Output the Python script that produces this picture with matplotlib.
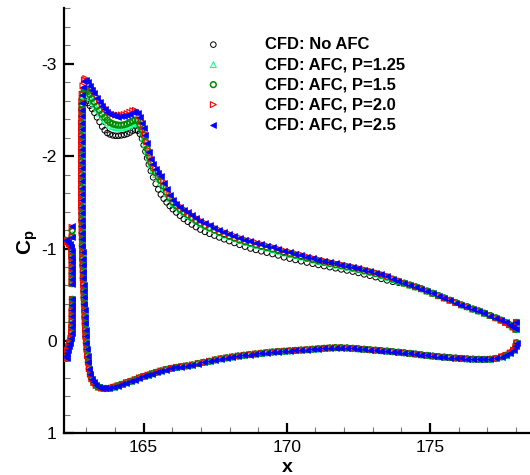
import matplotlib
matplotlib.use('Agg')
import matplotlib.pyplot as plt
from matplotlib.ticker import MultipleLocator

plt.rcParams['font.family'] = 'Liberation Sans'
plt.rcParams['axes.unicode_minus'] = False
plt.rcParams['mathtext.fontset'] = 'custom'
plt.rcParams['mathtext.rm'] = 'Liberation Sans'
plt.rcParams['mathtext.bf'] = 'Liberation Sans:bold'

labels = ['CFD: No AFC', 'CFD: AFC, P=1.25', 'CFD: AFC, P=1.5',
          'CFD: AFC, P=2.0', 'CFD: AFC, P=2.5']

# slot / slat trailing edge region (all cases on top of each other)
x_slat = [162.27, 162.34, 162.41, 162.47, 162.50,
          162.49, 162.49, 162.50, 162.50, 162.50, 162.50, 162.50,
          162.51, 162.51, 162.50, 162.50, 162.50, 162.49, 162.48, 162.46,
          162.42, 162.38, 162.34, 162.31, 162.30, 162.31]
cp_slat = [-1.09, -1.07, -1.05, -1.02, -1.13,
           -0.97, -0.91, -0.85, -0.79, -0.73, -0.67, -0.62,
           -0.45, -0.39, -0.33, -0.27, -0.21, -0.15, -0.09, -0.03,
           0.02, 0.06, 0.10, 0.13, 0.16, 0.19]
# top of the slot column, one value per case
x_slot_top = 162.50
cp_slot_top = [-1.20, -1.15, -1.19, -1.23, -1.245]

# main element leading edge (steep part going down into lower surface)
x_le = [162.84, 162.84, 162.83, 162.83, 162.83, 162.83, 162.83, 162.83, 162.83, 162.83,
        162.83, 162.83, 162.83, 162.83, 162.83, 162.83, 162.84, 162.84, 162.85, 162.85,
        162.86, 162.86, 162.87, 162.87, 162.88, 162.89, 162.89, 162.90, 162.91, 162.92,
        162.93, 162.94, 162.95, 162.96, 162.97, 162.98, 163.00, 163.02, 163.04, 163.07,
        163.10, 163.14, 163.19, 163.26, 163.34, 163.43, 163.53]
cp_le = [-2.50, -2.43, -2.36, -2.29, -2.22, -2.15, -2.08, -2.01, -1.94, -1.87,
         -1.80, -1.73, -1.66, -1.59, -1.52, -1.45, -1.38, -1.31, -1.24, -1.17,
         -1.10, -1.03, -0.96, -0.89, -0.82, -0.75, -0.68, -0.61, -0.54, -0.47,
         -0.40, -0.33, -0.26, -0.19, -0.12, -0.05, 0.02, 0.09, 0.16, 0.23,
         0.30, 0.36, 0.41, 0.45, 0.48, 0.50, 0.51]

# lower surface (cases collapse)
x_lo = [163.65, 163.8, 163.95, 164.1, 164.25, 164.4, 164.55, 164.7, 164.85, 165.0,
        165.15, 165.3, 165.45, 165.6, 165.78, 165.96, 166.14, 166.32, 166.5, 166.7,
        166.9, 167.1, 167.3, 167.5, 167.7, 167.9, 168.1, 168.3, 168.5, 168.7,
        168.9, 169.1, 169.3, 169.5, 169.7, 169.9, 170.1, 170.3, 170.5, 170.7,
        170.9, 171.1, 171.3, 171.5, 171.7, 171.9, 172.1, 172.3, 172.5, 172.7,
        172.9, 173.1, 173.3, 173.5, 173.7, 173.9, 174.1, 174.3, 174.5, 174.7,
        174.9, 175.1, 175.3, 175.5, 175.7, 175.9, 176.1, 176.3, 176.5, 176.7,
        176.9, 177.1, 177.3, 177.5, 177.65, 177.8, 177.92, 178.0, 178.03]
cp_lo = [0.515, 0.513, 0.5, 0.485, 0.47, 0.452, 0.437, 0.42, 0.40, 0.385,
         0.37, 0.355, 0.34, 0.325, 0.31, 0.298, 0.287, 0.278, 0.27, 0.26,
         0.245, 0.232, 0.22, 0.205, 0.193, 0.183, 0.173, 0.163, 0.155, 0.148,
         0.141, 0.134, 0.127, 0.12, 0.115, 0.111, 0.107, 0.103, 0.099, 0.095,
         0.09, 0.085, 0.08, 0.076, 0.073, 0.073, 0.076, 0.08, 0.085, 0.09,
         0.095, 0.10, 0.105, 0.11, 0.116, 0.122, 0.128, 0.135, 0.142, 0.15,
         0.157, 0.164, 0.17, 0.175, 0.18, 0.185, 0.19, 0.194, 0.197, 0.199,
         0.2, 0.198, 0.19, 0.172, 0.155, 0.13, 0.1, 0.06, 0.02]

# upper surface, front part (cases differ)
x_up = [162.84, 162.85, 162.88, 162.93, 162.98, 163.05, 163.12, 163.20, 163.28, 163.37,
        163.46, 163.55, 163.64, 163.73, 163.82, 163.92, 164.02, 164.12, 164.22, 164.32,
        164.42, 164.52, 164.62, 164.71, 164.79, 164.87, 164.94, 165.00, 165.06, 165.12,
        165.18, 165.25, 165.33, 165.42, 165.51, 165.60, 165.70, 165.80, 165.91, 166.02,
        166.14, 166.27, 166.40, 166.54, 166.68, 166.83, 166.98, 167.14, 167.30, 167.47,
        167.64, 167.81, 167.99, 168.17, 168.35, 168.54, 168.73, 168.92, 169.11, 169.30,
        169.50, 169.70, 169.90, 170.10, 170.30, 170.50, 170.70, 170.90, 171.10, 171.30,
        171.50, 171.70, 171.90, 172.10, 172.30, 172.50, 172.70, 172.90, 173.10, 173.30,
        173.50, 173.70, 173.90]

cp_up_noafc = [-2.53, -2.56, -2.585, -2.60, -2.595, -2.575, -2.545, -2.51, -2.47, -2.42,
               -2.37, -2.32, -2.28, -2.25, -2.235, -2.225, -2.22, -2.22, -2.225, -2.23,
               -2.24, -2.255, -2.275, -2.285, -2.275, -2.24, -2.19, -2.12, -2.05, -1.98,
               -1.91, -1.84, -1.77, -1.70, -1.64, -1.585, -1.54, -1.50, -1.46, -1.425,
               -1.39, -1.355, -1.32, -1.29, -1.26, -1.232, -1.205, -1.18, -1.16, -1.14,
               -1.12, -1.10, -1.08, -1.06, -1.04, -1.02, -1.0, -0.985, -0.97, -0.955,
               -0.94, -0.925, -0.905, -0.89, -0.876, -0.862, -0.848, -0.835, -0.822, -0.81,
               -0.798, -0.786, -0.774, -0.762, -0.75, -0.736, -0.72, -0.705, -0.69, -0.672,
               -0.655, -0.64, -0.63]
cp_up_p125 = [-2.55, -2.60, -2.65, -2.685, -2.69, -2.67, -2.635, -2.595, -2.555, -2.51,
              -2.465, -2.425, -2.39, -2.36, -2.335, -2.32, -2.31, -2.305, -2.305, -2.31,
              -2.32, -2.335, -2.35, -2.36, -2.35, -2.31, -2.255, -2.195, -2.13, -2.055,
              -1.98, -1.91, -1.85, -1.80, -1.755, -1.715, -1.66, -1.60, -1.54, -1.49,
              -1.452, -1.418, -1.388, -1.358, -1.328, -1.298, -1.268, -1.243, -1.218, -1.194,
              -1.17, -1.147, -1.127, -1.107, -1.087, -1.068, -1.053, -1.036, -1.02, -1.006,
              -0.99, -0.972, -0.953, -0.938, -0.924, -0.909, -0.892, -0.876, -0.861, -0.848,
              -0.835, -0.822, -0.81, -0.798, -0.785, -0.771, -0.756, -0.742, -0.726, -0.708,
              -0.689, -0.665, -0.642]
cp_up_p15 = [-2.56, -2.62, -2.68, -2.715, -2.72, -2.70, -2.665, -2.625, -2.585, -2.54,
             -2.495, -2.455, -2.42, -2.39, -2.365, -2.35, -2.34, -2.335, -2.335, -2.34,
             -2.35, -2.365, -2.38, -2.39, -2.38, -2.34, -2.285, -2.225, -2.16, -2.08,
             -2.00, -1.93, -1.87, -1.82, -1.775, -1.735, -1.675, -1.61, -1.55, -1.50,
             -1.46, -1.425, -1.395, -1.365, -1.335, -1.305, -1.275, -1.25, -1.225, -1.20,
             -1.175, -1.152, -1.132, -1.112, -1.092, -1.073, -1.058, -1.04, -1.024, -1.01,
             -0.995, -0.976, -0.957, -0.942, -0.928, -0.913, -0.896, -0.88, -0.865, -0.852,
             -0.839, -0.826, -0.814, -0.802, -0.789, -0.775, -0.76, -0.746, -0.73, -0.712,
             -0.693, -0.668, -0.645]
cp_up_p20 = [-2.59, -2.67, -2.76, -2.825, -2.84, -2.815, -2.775, -2.735, -2.695, -2.645,
             -2.60, -2.56, -2.525, -2.495, -2.47, -2.455, -2.445, -2.443, -2.445, -2.45,
             -2.46, -2.475, -2.49, -2.495, -2.48, -2.435, -2.375, -2.315, -2.245, -2.155,
             -2.065, -1.985, -1.925, -1.875, -1.835, -1.795, -1.725, -1.655, -1.59, -1.537,
             -1.495, -1.46, -1.43, -1.395, -1.365, -1.335, -1.305, -1.28, -1.255, -1.23,
             -1.205, -1.18, -1.16, -1.14, -1.12, -1.10, -1.085, -1.067, -1.05, -1.035,
             -1.02, -1.0, -0.98, -0.965, -0.95, -0.935, -0.917, -0.9, -0.885, -0.87,
             -0.856, -0.842, -0.83, -0.818, -0.804, -0.789, -0.774, -0.759, -0.742, -0.724,
             -0.704, -0.679, -0.654]
cp_up_p25 = [-2.58, -2.66, -2.75, -2.81, -2.825, -2.80, -2.76, -2.72, -2.68, -2.63,
             -2.585, -2.545, -2.51, -2.48, -2.455, -2.44, -2.43, -2.428, -2.43, -2.435,
             -2.445, -2.46, -2.475, -2.48, -2.465, -2.42, -2.36, -2.30, -2.23, -2.14,
             -2.05, -1.97, -1.91, -1.86, -1.82, -1.78, -1.71, -1.64, -1.575, -1.525,
             -1.485, -1.45, -1.42, -1.39, -1.36, -1.33, -1.30, -1.275, -1.25, -1.225,
             -1.20, -1.175, -1.155, -1.135, -1.115, -1.095, -1.08, -1.062, -1.045, -1.03,
             -1.015, -0.995, -0.975, -0.96, -0.945, -0.93, -0.912, -0.896, -0.88, -0.866,
             -0.852, -0.838, -0.826, -0.814, -0.80, -0.785, -0.77, -0.755, -0.738, -0.72,
             -0.70, -0.675, -0.65]

# upper surface, rear part up to trailing edge (cases collapse)
x_up_tail = [174.1, 174.3, 174.5, 174.7, 174.9, 175.1, 175.3, 175.5, 175.7, 175.9,
             176.1, 176.3, 176.5, 176.7, 176.9, 177.1, 177.3, 177.48, 177.64, 177.78,
             177.9, 178.0, 178.02]
cp_up_tail = [-0.625, -0.605, -0.585, -0.565, -0.54, -0.515, -0.49, -0.465, -0.44, -0.415,
              -0.39, -0.37, -0.345, -0.325, -0.30, -0.275, -0.25, -0.225, -0.20, -0.175,
              -0.15, -0.125, -0.20]

cp_upper = [cp_up_noafc, cp_up_p125, cp_up_p15, cp_up_p20, cp_up_p25]
styles = [
    dict(marker='o', facecolors='none', edgecolors='black', s=16, linewidths=0.7),
    dict(marker='^', facecolors='none', edgecolors='#1aff8c', s=18, linewidths=0.8),
    dict(marker='o', facecolors='none', edgecolors='#008a00', s=17, linewidths=1.1),
    dict(marker='>', facecolors='none', edgecolors='red', s=18, linewidths=0.8),
    dict(marker='<', facecolors='blue', edgecolors='blue', s=18, linewidths=0.5),
]

fig = plt.figure(figsize=(5.3, 4.75), dpi=100)
ax = fig.add_axes([63.5 / 530, 1 - 433.3 / 475, 466.7 / 530, 425 / 475])

for i in range(len(labels)):
    xs = x_slat + [x_slot_top] + x_le + x_up + x_up_tail + x_lo
    ys = cp_slat + [cp_slot_top[i]] + cp_le + cp_upper[i] + cp_up_tail + cp_lo
    ax.scatter(xs, ys, label=labels[i], zorder=3 + i, **styles[i])

ax.set_xlim(162.2, 178.5)
ax.set_ylim(1, -3.6)
ax.xaxis.set_major_locator(MultipleLocator(5))
ax.xaxis.set_minor_locator(MultipleLocator(1))
ax.yaxis.set_major_locator(MultipleLocator(1))
ax.yaxis.set_minor_locator(MultipleLocator(0.2))
ax.tick_params(which='major', direction='in', length=7, width=1.6, labelsize=12.5, pad=5)
ax.tick_params(which='minor', direction='in', length=4, width=0.8, color='#777777')
for side in ['top', 'right']:
    ax.spines[side].set_visible(False)
for side in ['left', 'bottom']:
    ax.spines[side].set_linewidth(1.6)

ax.set_xlabel('x', fontweight='bold', fontsize=14)
ax.xaxis.set_label_coords(0.48, -0.06)
ax.set_ylabel(r'$\mathbf{C_p}$', fontsize=15)
ax.yaxis.set_label_coords(-0.05, 0.45)

ax.legend(loc='upper left', bbox_to_anchor=(205 / 530, 1 - 37 / 475),
          bbox_transform=fig.transFigure, frameon=False, handlelength=1.0,
          handletextpad=2.6, labelspacing=0.3, borderpad=0, borderaxespad=0,
          prop={'weight': 'bold', 'size': 12}, scatterpoints=1)

fig.savefig('out.png', dpi=100)
